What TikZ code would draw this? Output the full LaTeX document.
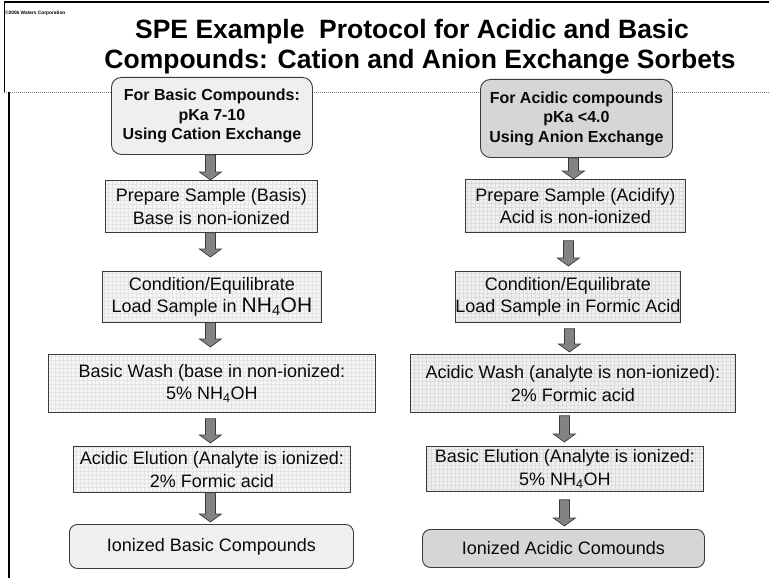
\documentclass[tikz,border=0pt]{standalone}
\usepackage{fontspec}
\setmainfont{Liberation Sans}
\usetikzlibrary{calc}
\definecolor{txt}{HTML}{0A0A0A}
\definecolor{edge}{HTML}{3A3A3A}
\definecolor{lightfill}{HTML}{EFEFEF}
\definecolor{darkfill}{HTML}{D6D6D6}
\definecolor{gridA}{HTML}{F6F6F6}
\definecolor{gridB}{HTML}{F0F0F0}
\definecolor{gridlineA}{HTML}{E4E4E4}
\definecolor{gridlineB}{HTML}{DCDCDC}
\definecolor{arrowfill}{HTML}{838383}
\tikzset{
  hdr/.style={draw=edge, line width=0.9pt, rounded corners=10pt, inner sep=0pt,
    align=center, text=txt, font=\fontsize{16}{19.5}\selectfont\bfseries,
    anchor=north west, fill=#1},
  hdr/.default=lightfill,
  stepbox/.style 2 args={draw=edge, line width=0.8pt, inner sep=0pt, align=center,
    text=txt, font=\fontsize{18}{22.5}\selectfont, anchor=north west, fill=#1,
    path picture={\draw[#2, line width=0.2pt, step=4pt]
      (path picture bounding box.south west) grid (path picture bounding box.north east);}},
  leftbox/.style={stepbox={gridA}{gridlineA}},
  rightbox/.style={stepbox={gridB}{gridlineB}},
  endbox/.style={draw=edge, line width=0.9pt, rounded corners=8pt, inner sep=0pt,
    align=center, text=txt, font=\fontsize{18}{22}\selectfont,
    anchor=north west, fill=#1},
  endbox/.default=lightfill,
  blockarrow/.style={fill=arrowfill, draw=edge, line width=0.7pt,
    to path={let \p1=(\tikztostart), \p2=(\tikztotarget) in
      (\x1-5pt,\y1) -- (\x1+5pt,\y1) -- (\x1+5pt,\y2+8pt) -- (\x1+11pt,\y2+8pt)
      -- (\x1,\y2) -- (\x1-11pt,\y2+8pt) -- (\x1-5pt,\y2+8pt) -- cycle}},
}
\begin{document}
\begin{tikzpicture}[x=1pt, y=-1pt]
\useasboundingbox (0,0) rectangle (769,578);
\fill[white] (0,0) rectangle (769,578);

% frame
\draw[line width=2pt] (4,2) -- (769,2);
\draw[line width=1pt] (4,2) -- (4,92);
\draw[gray, line width=0.6pt, dash pattern=on 1pt off 1pt] (4,92) -- (769,92);
\draw[line width=2pt] (9,92) -- (9,578);

% title
\node[anchor=base west, inner sep=0pt, font=\fontsize{4.8}{5}\selectfont\bfseries] (cr) at (5,15) {©2006 Waters Corporation};
\node[anchor=base, inner sep=0pt, font=\fontsize{26.5}{30}\selectfont\bfseries] (t1) at (412,39) {SPE Example\ \ Protocol for Acidic and Basic};
\node[anchor=base, inner sep=0pt, font=\fontsize{26.5}{30}\selectfont\bfseries] (t2) at (420,69) {Compounds: Cation and Anion Exchange Sorbets};

% left column
\node[hdr, minimum width=201pt, minimum height=77pt] (L1) at (111,77) {For Basic Compounds:\\pKa 7-10\\Using Cation Exchange};
\node[leftbox, minimum width=212pt, minimum height=52pt] (L2) at (105,180) {Prepare Sample (Basis)\\Base is non-ionized};
\node[leftbox, minimum width=219pt, minimum height=51pt] (L3) at (102,271) {Condition/Equilibrate\\Load Sample in {\fontsize{21}{22}\selectfont NH\textsubscript{4}OH}};
\node[leftbox, minimum width=327pt, minimum height=58pt] (L4) at (48,354) {Basic Wash (base in non-ionized:\\5\% NH\textsubscript{4}OH};
\node[leftbox, minimum width=277pt, minimum height=46pt] (L5) at (73,446) {Acidic Elution (Analyte is ionized:\\2\% Formic acid};
\node[endbox, minimum width=284pt, minimum height=44pt] (L6) at (69,524) {Ionized Basic Compounds};

% right column
\node[hdr=darkfill, minimum width=192pt, minimum height=78pt] (R1) at (480,79) {For Acidic compounds\\pKa <4.0\\Using Anion Exchange};
\node[rightbox, minimum width=220pt, minimum height=53pt] (R2) at (465,179) {Prepare Sample (Acidify)\\Acid is non-ionized};
\node[rightbox, minimum width=223pt, minimum height=51pt] (R3) at (455,271) {Condition/Equilibrate\\Load Sample in Formic Acid};
\node[rightbox, minimum width=325pt, minimum height=58pt] (R4) at (410,354) {Acidic Wash (analyte is non-ionized):\\2\% Formic acid};
\node[rightbox, minimum width=277pt, minimum height=45pt] (R5) at (426,446) {Basic Elution (Analyte is ionized:\\5\% NH\textsubscript{4}OH};
\node[endbox=darkfill, minimum width=282pt, minimum height=38pt] (R6) at (422,529) {Ionized Acidic Comounds};

% block arrows, left
\draw[blockarrow] ([xshift=-1.5pt]L1.south) to (L2.north);
\draw[blockarrow] ([xshift=-1pt]L2.south) to ([yshift=14pt]L3.north);
\draw[blockarrow] ([xshift=-1.5pt]L3.south) to ([yshift=7pt]L4.north);
\draw[blockarrow] ([xshift=-1.5pt,yshift=-6pt]L4.south) to ([yshift=3pt]L5.north);
\draw[blockarrow] ([xshift=-1.5pt]L5.south) to ([yshift=2pt]L6.north);

% block arrows, right
\draw[blockarrow] ([xshift=-3pt]R1.south) to (R2.north);
\draw[blockarrow] ([xshift=-7pt,yshift=-8pt]R2.south) to ([yshift=5pt]R3.north);
\draw[blockarrow] ([xshift=1.5pt,yshift=-6pt]R3.south) to ([yshift=2pt]R4.north);
\draw[blockarrow] ([xshift=-8.5pt,yshift=-3pt]R4.south) to ([yshift=4pt]R5.north);
\draw[blockarrow] ([xshift=-0.5pt,yshift=-8pt]R5.south) to ([yshift=3pt]R6.north);
\end{tikzpicture}
\end{document}
